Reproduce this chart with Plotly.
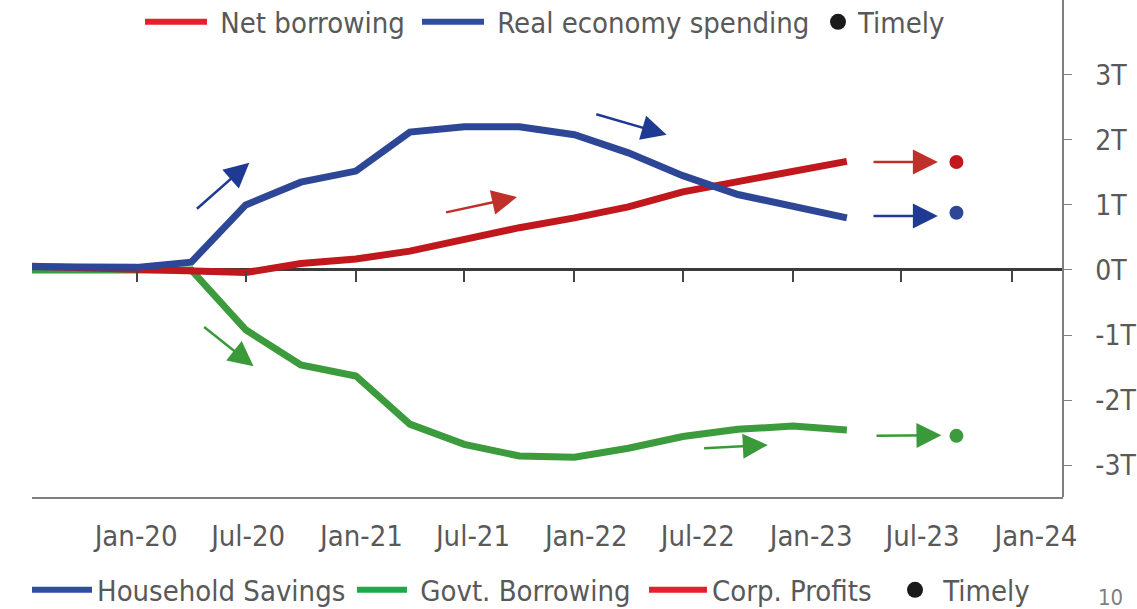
import plotly.graph_objects as go

# ---------------- data ----------------
quarters = ["2019-07-01", "2019-10-01", "2020-01-01", "2020-04-01", "2020-07-01",
            "2020-10-01", "2021-01-01", "2021-04-01", "2021-07-01", "2021-10-01",
            "2022-01-01", "2022-04-01", "2022-07-01", "2022-10-01", "2023-01-01",
            "2023-04-01"]
household_savings = [0.05, 0.04, 0.04, 0.12, 1.00, 1.35, 1.52, 2.12, 2.20, 2.20,
                     2.08, 1.80, 1.45, 1.16, 0.98, 0.80]
corp_profits = [0.06, 0.04, 0.02, 0.00, -0.04, 0.10, 0.17, 0.29, 0.47, 0.65,
                0.80, 0.97, 1.20, 1.36, 1.53, 1.67]
govt_borrowing = [0.00, 0.00, 0.01, 0.00, -0.92, -1.46, -1.63, -2.37, -2.68, -2.86,
                  -2.88, -2.74, -2.56, -2.45, -2.40, -2.46]

timely_date = ["2023-10-01"]
timely_savings = [0.88]
timely_profits = [1.66]
timely_govt = [-2.55]

tick_dates = ["2020-01-01", "2020-07-01", "2021-01-01", "2021-07-01", "2022-01-01",
              "2022-07-01", "2023-01-01", "2023-07-01", "2024-01-01"]
tick_labels = ["Jan-20", "Jul-20", "Jan-21", "Jul-21", "Jan-22", "Jul-22",
               "Jan-23", "Jul-23", "Jan-24"]
y_ticks = [-3, -2, -1, 0, 1, 2, 3]
y_tick_labels = ["-3T", "-2T", "-1T", "0T", "1T", "2T", "3T"]

top_legend_names = ["Net borrowing", "Real economy spending", "Timely"]
bottom_legend_names = ["Household Savings", "Govt. Borrowing", "Corp. Profits", "Timely"]

# trend arrows: (tail date, tail value, head date, head value, colour)
arrows = [
    ("2020-04-08", 0.92, "2020-07-07", 1.65, "#1F3A93"),
    ("2021-05-29", 0.88, "2021-09-27", 1.12, "#C0302B"),
    ("2022-02-04", 2.40, "2022-06-04", 2.08, "#1F3A93"),
    ("2020-04-20", -0.86, "2020-07-14", -1.48, "#3A9A3A"),
    ("2022-08-03", -2.74, "2022-11-20", -2.69, "#3A9A3A"),
    ("2023-05-13", 1.66, "2023-08-31", 1.66, "#C0302B"),
    ("2023-05-13", 0.83, "2023-08-31", 0.83, "#1F3A93"),
    ("2023-05-18", -2.55, "2023-09-06", -2.54, "#3A9A3A"),
]

BLUE = "#2D4696"
RED = "#C1181D"
GREEN = "#3C9B3C"
L_BLUE = "#2F4EA2"
L_RED = "#E3202B"
L_GREEN = "#1BAA4A"
GREY_TXT = "#595959"
FONT = "Liberation Sans Narrow, DejaVu Sans Condensed, Arial Narrow, sans-serif"
NB = "\u00a0"

PLOT_L, PLOT_W, PLOT_H = 32, 1031, 497

fig = go.Figure()

# main series
fig.add_trace(go.Scatter(x=quarters, y=govt_borrowing, mode="lines",
                         line=dict(color=GREEN, width=7), showlegend=False,
                         name="Govt. Borrowing"))
fig.add_trace(go.Scatter(x=quarters, y=corp_profits, mode="lines",
                         line=dict(color=RED, width=7), showlegend=False,
                         name="Corp. Profits"))
fig.add_trace(go.Scatter(x=quarters, y=household_savings, mode="lines",
                         line=dict(color=BLUE, width=7), showlegend=False,
                         name="Household Savings"))

# timely dots
for vals, col in [(timely_profits, RED), (timely_savings, BLUE), (timely_govt, GREEN)]:
    fig.add_trace(go.Scatter(x=timely_date, y=vals, mode="markers",
                             marker=dict(color=col, size=14, symbol="circle"),
                             showlegend=False))

# legend entries: each in its own legend box for exact placement
# (mode, colour, left px, itemwidth, leading nbsp, centre y px)
top_styles = [("lines", L_RED, 140, 62, True), ("lines", L_BLUE, 417, 62, True),
              ("markers", "#1a1a1a", 818, 30, False)]
bottom_styles = [("lines", L_BLUE, 27, 60, False), ("lines", L_GREEN, 352, 50, True),
                 ("lines", L_RED, 644, 58, False), ("markers", "#1a1a1a", 895, 30, True)]

legend_layout = {}
k = 0
for names, styles, cy in [(top_legend_names, top_styles, 22),
                          (bottom_legend_names, bottom_styles, 590)]:
    for nm, (md, col, px, iw, lead) in zip(names, styles):
        k += 1
        key = "legend" if k == 1 else f"legend{k}"
        fig.add_trace(go.Scatter(x=[None], y=[None], mode=md,
                                 name=(NB if lead else "") + nm,
                                 line=dict(color=col, width=6),
                                 marker=dict(color=col, size=18), legend=key))
        legend_layout[key] = dict(
            orientation="h", x=(px - PLOT_L) / PLOT_W, xanchor="left",
            y=1 - cy / PLOT_H, yanchor="middle", bgcolor="rgba(0,0,0,0)",
            font=dict(family=FONT, size=29, color=GREY_TXT),
            itemwidth=iw, tracegroupgap=0)

# carrier for the label axis
fig.add_trace(go.Scatter(x=tick_dates, y=[0] * len(tick_dates), xaxis="x2",
                         mode="markers", marker=dict(opacity=0), hoverinfo="skip",
                         showlegend=False))

for tx, ty, hx, hy, col in arrows:
    fig.add_annotation(x=hx, y=hy, ax=tx, ay=ty, xref="x", yref="y",
                       axref="x", ayref="y", text="", showarrow=True,
                       arrowhead=2, arrowsize=2, arrowwidth=2.5, arrowcolor=col,
                       standoff=0, startstandoff=0)

fig.add_annotation(x=(1110 - PLOT_L) / PLOT_W, y=-(597 - PLOT_H) / PLOT_H,
                   xref="paper", yref="paper", xanchor="center", yanchor="middle",
                   text="10", showarrow=False,
                   font=dict(family=FONT, size=22, color="#7f7f7f"))

y_lo, y_hi = -3.49, 4.15
fig.update_layout(
    width=1137, height=609,
    margin=dict(l=32, r=74, t=0, b=112, autoexpand=False),
    paper_bgcolor="white", plot_bgcolor="white",
    font=dict(family=FONT, color=GREY_TXT),
    xaxis=dict(type="date", range=["2019-07-10", "2024-03-27"],
               anchor="free", position=(0 - y_lo) / (y_hi - y_lo),
               showgrid=False, zeroline=False, showline=False,
               tickvals=tick_dates, showticklabels=False,
               ticks="outside", ticklen=11, tickwidth=1.5, tickcolor="#444444"),
    xaxis2=dict(type="date", range=["2019-07-16", "2024-02-14"],
                overlaying="x", anchor="y", side="bottom",
                showgrid=False, zeroline=False, showline=True,
                linecolor="#7f7f7f", linewidth=1.5,
                tickvals=tick_dates, ticktext=tick_labels, ticks="",
                ticklabelstandoff=12,
                tickfont=dict(family=FONT, size=29, color=GREY_TXT)),
    yaxis=dict(range=[y_lo, y_hi], side="right", anchor="free", position=1,
               showgrid=False, zeroline=True, zerolinecolor="#3a3a3a",
               zerolinewidth=2.5, showline=True, linecolor="#7f7f7f",
               linewidth=1.5, ticks="outside", ticklen=8, tickwidth=1.2,
               tickcolor="#7f7f7f", tickvals=y_ticks, ticktext=y_tick_labels,
               ticklabelstandoff=18,
               tickfont=dict(family=FONT, size=28, color=GREY_TXT)),
    showlegend=True,
    **legend_layout,
)

fig.write_html("out.html")
